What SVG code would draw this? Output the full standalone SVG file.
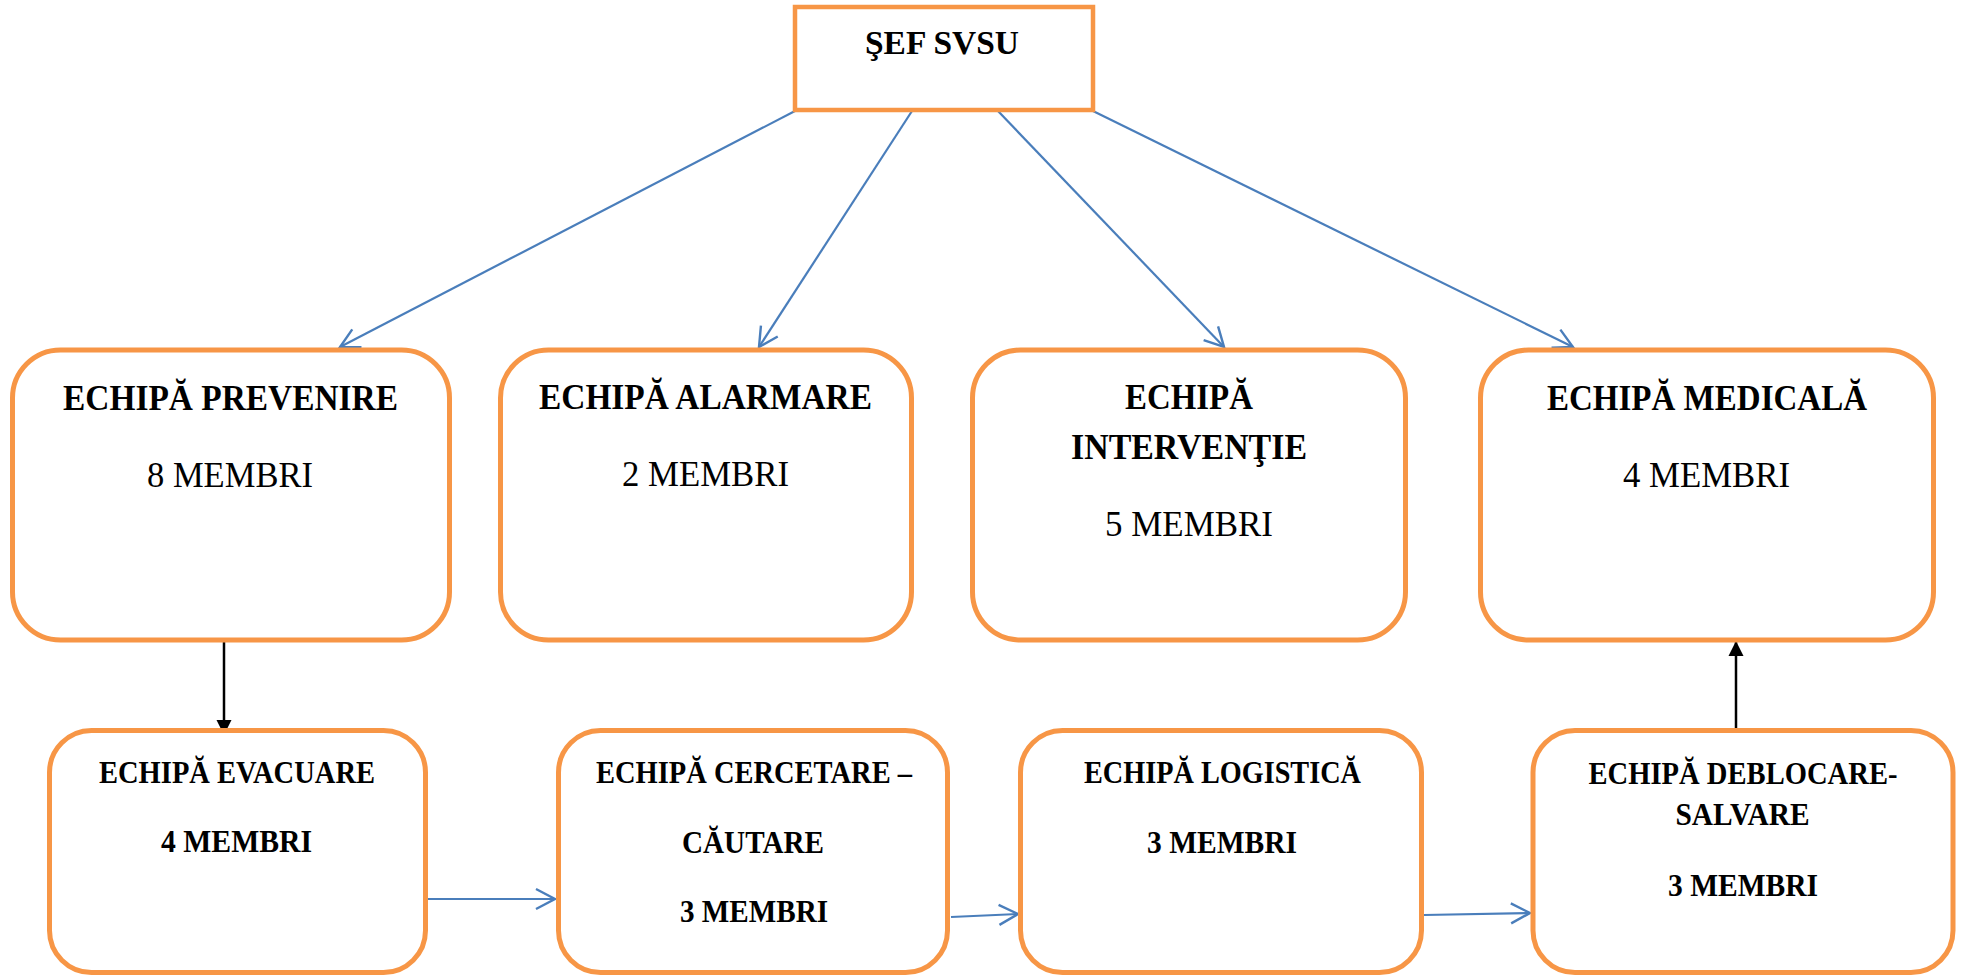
<svg xmlns="http://www.w3.org/2000/svg" width="1961" height="977" viewBox="0 0 1961 977">
<style>
.box{fill:#ffffff;stroke:#F79646;stroke-width:5}
.t{font-family:"Liberation Serif","DejaVu Serif",serif;fill:#000;text-anchor:middle}
.b{font-weight:bold}
.big{font-size:36px}
.sm{font-size:31px}
.blue{stroke:#4A7EBB;stroke-width:2.2;fill:none}
.blk{stroke:#000;stroke-width:2.5;fill:none}
</style>
<defs>
<marker id="open" markerUnits="userSpaceOnUse" markerWidth="24" markerHeight="24" viewBox="0 0 24 24" refX="20" refY="11" orient="auto" overflow="visible">
<path d="M1,1 L20,11 L1,21" fill="none" stroke="#4A7EBB" stroke-width="2.4"/>
</marker>
<marker id="fill" markerUnits="userSpaceOnUse" markerWidth="16" markerHeight="16" viewBox="0 0 16 16" refX="15" refY="7.5" orient="auto" overflow="visible">
<path d="M0,0 L15,7.5 L0,15 Z" fill="#000"/>
</marker>
</defs>
<rect width="1961" height="977" fill="#fff"/>
<g id="connectors">
<line class="blue" x1="795" y1="111" x2="340" y2="347" marker-end="url(#open)"/>
<line class="blue" x1="912" y1="111" x2="759" y2="347" marker-end="url(#open)"/>
<line class="blue" x1="998" y1="111" x2="1224" y2="347" marker-end="url(#open)"/>
<line class="blue" x1="1093" y1="111" x2="1573" y2="347" marker-end="url(#open)"/>
<line class="blk" x1="224" y1="640" x2="224" y2="735" marker-end="url(#fill)"/>
<line class="blk" x1="1736" y1="735" x2="1736" y2="641" marker-end="url(#fill)"/>
<line class="blue" x1="428" y1="899" x2="555" y2="899" marker-end="url(#open)"/>
<line class="blue" x1="951" y1="917" x2="1018" y2="914" marker-end="url(#open)"/>
<line class="blue" x1="1424" y1="915" x2="1530" y2="913" marker-end="url(#open)"/>
</g>
<g id="sef">
<rect x="795" y="7" width="298" height="103" fill="#fff" stroke="#F79646" stroke-width="4.5"/>
<text class="t b" x="942" y="54" font-size="34" textLength="154" lengthAdjust="spacingAndGlyphs">ŞEF SVSU</text>
</g>
<g id="prevenire">
<rect class="box" x="12.5" y="350" width="437" height="290" rx="48"/>
<text class="t b big" x="230.5" y="410" textLength="335" lengthAdjust="spacingAndGlyphs">ECHIPĂ PREVENIRE</text>
<text class="t big" x="230" y="487" textLength="166" lengthAdjust="spacingAndGlyphs">8 MEMBRI</text>
</g>
<g id="alarmare">
<rect class="box" x="500.5" y="350" width="411" height="290" rx="48"/>
<text class="t b big" x="705.5" y="409" textLength="333" lengthAdjust="spacingAndGlyphs">ECHIPĂ ALARMARE</text>
<text class="t big" x="705.5" y="486" textLength="167" lengthAdjust="spacingAndGlyphs">2 MEMBRI</text>
</g>
<g id="interventie">
<rect class="box" x="972.5" y="350" width="433" height="290" rx="48"/>
<text class="t b big" x="1189" y="409" textLength="128" lengthAdjust="spacingAndGlyphs">ECHIPĂ</text>
<text class="t b big" x="1189" y="459" textLength="236" lengthAdjust="spacingAndGlyphs">INTERVENŢIE</text>
<text class="t big" x="1189" y="536" textLength="168" lengthAdjust="spacingAndGlyphs">5 MEMBRI</text>
</g>
<g id="medicala">
<rect class="box" x="1480.5" y="350" width="453" height="290" rx="48"/>
<text class="t b big" x="1707" y="410" textLength="320" lengthAdjust="spacingAndGlyphs">ECHIPĂ MEDICALĂ</text>
<text class="t big" x="1706.5" y="487" textLength="167" lengthAdjust="spacingAndGlyphs">4 MEMBRI</text>
</g>
<g id="evacuare">
<rect class="box" x="49.5" y="730.5" width="376" height="242" rx="42"/>
<text class="t b sm" x="237" y="783" textLength="276" lengthAdjust="spacingAndGlyphs">ECHIPĂ EVACUARE</text>
<text class="t b sm" x="236.5" y="852" textLength="151" lengthAdjust="spacingAndGlyphs">4 MEMBRI</text>
</g>
<g id="cercetare">
<rect class="box" x="558.5" y="730.5" width="389" height="242" rx="42"/>
<text class="t b sm" x="754" y="783" textLength="316" lengthAdjust="spacingAndGlyphs">ECHIPĂ CERCETARE –</text>
<text class="t b sm" x="753" y="853" textLength="142" lengthAdjust="spacingAndGlyphs">CĂUTARE</text>
<text class="t b sm" x="754" y="922" textLength="148" lengthAdjust="spacingAndGlyphs">3 MEMBRI</text>
</g>
<g id="logistica">
<rect class="box" x="1020.5" y="730.5" width="401" height="242" rx="42"/>
<text class="t b sm" x="1222.5" y="783" textLength="277" lengthAdjust="spacingAndGlyphs">ECHIPĂ LOGISTICĂ</text>
<text class="t b sm" x="1222" y="853" textLength="150" lengthAdjust="spacingAndGlyphs">3 MEMBRI</text>
</g>
<g id="deblocare">
<rect class="box" x="1533" y="730.5" width="420" height="242" rx="42"/>
<text class="t b sm" x="1743" y="784" textLength="309" lengthAdjust="spacingAndGlyphs">ECHIPĂ DEBLOCARE-</text>
<text class="t b sm" x="1742.5" y="825" textLength="134" lengthAdjust="spacingAndGlyphs">SALVARE</text>
<text class="t b sm" x="1743" y="896" textLength="150" lengthAdjust="spacingAndGlyphs">3 MEMBRI</text>
</g>
</svg>
